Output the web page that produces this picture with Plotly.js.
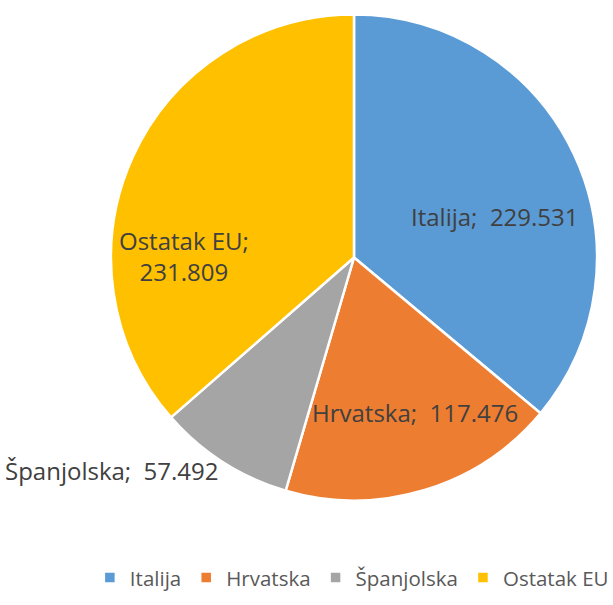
<!DOCTYPE html>
<html><head><meta charset="utf-8">
<script src="https://cdn.plot.ly/plotly-3.0.1.min.js"></script>
<style>body{margin:0;}#c{width:613px;height:605px;}</style>
</head><body><div id="c"></div>
<script>
const labels = ["Italija", "Hrvatska", "Španjolska", "Ostatak EU"];
const values = [229.531, 117.476, 57.492, 231.809];
const colors = ["#5B9BD5", "#ED7D31", "#A5A5A5", "#FFC000"];
const separators = [";  ", ";  ", ";  ", ";<br>"];

const W = 613, H = 605;
// label anchor points (pixels), layout only
const labelPos = [[495, 216], [415, 412], [112, 470], [184, 256]];

const trace = {
  type: "pie",
  labels: labels,
  values: values,
  sort: false,
  direction: "clockwise",
  rotation: 0,
  marker: {colors: colors, line: {color: "#ffffff", width: 2.5}},
  textinfo: "none",
  hoverinfo: "none",
  domain: {x: [111/W, 597/W], y: [(H-500.5)/H, (H-14.5)/H]}
};

const annotations = labels.map((l, i) => ({
  xref: "paper", yref: "paper",
  x: labelPos[i][0] / W, y: 1 - labelPos[i][1] / H,
  xanchor: "center", yanchor: "middle",
  text: l + separators[i] + values[i].toFixed(3),
  showarrow: false, align: "center",
  font: {family: "Open Sans, sans-serif", size: 24, color: "#404040"}
}));

const layout = {
  width: W, height: H,
  margin: {l: 0, r: 0, t: 0, b: 0, autoexpand: false},
  paper_bgcolor: "#ffffff",
  showlegend: true,
  legend: {orientation: "h", x: 0.574, xanchor: "center", y: 0.045, yanchor: "middle",
           font: {family: "Open Sans, sans-serif", size: 20.5, color: "#595959"}, itemwidth: 20, traceorder: "normal"},
  annotations: annotations
};
Plotly.newPlot("c", [trace], layout, {staticPlot: true});
</script></body></html>
